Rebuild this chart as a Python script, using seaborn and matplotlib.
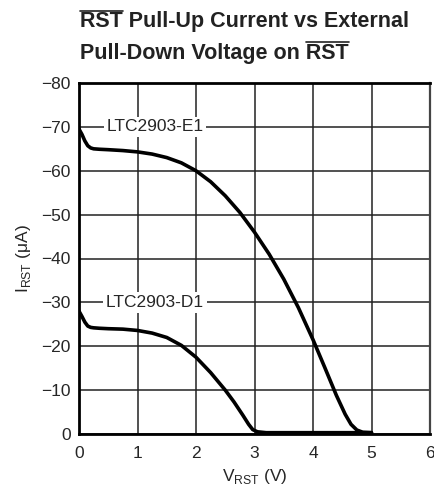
import numpy as np
import pandas as pd
import matplotlib
matplotlib.use('Agg')
import matplotlib.pyplot as plt
from matplotlib import font_manager
import seaborn as sns

# curve readings
v_e1 = [0.0, 0.05, 0.1, 0.15, 0.2, 0.25, 0.35, 0.5, 0.75, 1.0, 1.25, 1.5, 1.75, 2.0, 2.25, 2.5,
        2.75, 3.0, 3.25, 3.5, 3.75, 4.0, 4.2, 4.4, 4.55, 4.65, 4.75, 4.85, 5.0]
i_e1 = [-69.5, -68.3, -66.8, -65.7, -65.2, -65.0, -64.9, -64.8, -64.6, -64.3, -63.8, -63.0, -61.8,
        -60.0, -57.5, -54.3, -50.5, -46.0, -41.0, -35.3, -28.8, -21.5, -15.2, -8.8, -4.5, -2.2,
        -0.9, -0.4, -0.3]
v_d1 = [0.0, 0.05, 0.1, 0.15, 0.2, 0.25, 0.35, 0.5, 0.75, 1.0, 1.25, 1.5, 1.75, 2.0, 2.25, 2.5,
        2.65, 2.8, 2.9, 2.97, 3.05, 3.2, 4.0, 5.0]
i_d1 = [-28.0, -26.8, -25.5, -24.6, -24.3, -24.2, -24.1, -24.0, -23.9, -23.6, -23.0, -22.0, -20.2,
        -17.5, -14.0, -10.0, -7.3, -4.3, -2.2, -1.0, -0.5, -0.3, -0.3, -0.3]

xticks = [0, 1, 2, 3, 4, 5, 6]
yticks = [-80, -70, -60, -50, -40, -30, -20, -10, 0]
title1 = 'RST Pull-Up Current vs External'
title2 = 'Pull-Down Voltage on RST'

sns.set_style('white')

# a narrow face looks closer to the datasheet font, if one is around
names = {f.name for f in font_manager.fontManager.ttflist}
narrow = [n for n in ['Liberation Sans Narrow', 'DejaVu Sans Condensed'] if n in names]
if narrow:
    plt.rcParams['font.family'] = [narrow[0], 'DejaVu Sans']
    fs, tfs = 14, 18
else:
    plt.rcParams['font.family'] = ['Liberation Sans', 'DejaVu Sans']
    fs, tfs = 12.5, 15.5

fig = plt.figure(figsize=(4.34, 4.96), dpi=100)
ax = fig.add_axes([79 / 434, 1 - 434 / 496, 351 / 434, 351 / 496])

df = pd.concat([
    pd.DataFrame({'v': v_e1, 'i': i_e1, 'part': 'LTC2903-E1'}),
    pd.DataFrame({'v': v_d1, 'i': i_d1, 'part': 'LTC2903-D1'}),
])
sns.lineplot(data=df, x='v', y='i', units='part', estimator=None, color='black',
             linewidth=2.6, sort=False, ax=ax, zorder=3)

ax.set_xlim(0, 6)
ax.set_ylim(0, -80)
ax.set_xticks(xticks)
ax.set_yticks(yticks)
ax.set_xticklabels([str(t) for t in xticks])
ax.set_yticklabels([str(t).replace('-', '\u2212') for t in yticks])
ax.tick_params(labelsize=fs, length=0, pad=6)
ax.tick_params(axis='x', pad=9)
ax.grid(True, color='#222222', linewidth=1.1)
for s in ['left', 'bottom', 'top']:
    ax.spines[s].set_color('black')
    ax.spines[s].set_linewidth(2)
ax.spines['right'].set_color('#444444')
ax.spines['right'].set_linewidth(1.6)

ax.set_xlabel('V$_{\\mathregular{RST}}$ (V)', fontsize=fs, labelpad=4)
ax.set_ylabel('I$_{\\mathregular{RST}}$ ($\\mathregular{\\mu}$A)', fontsize=fs, labelpad=6)

for name, y in [('LTC2903-E1', -70), ('LTC2903-D1', -30)]:
    ax.text(1.3, y, name, fontsize=fs, ha='center', va='center', zorder=4,
            bbox=dict(facecolor='white', edgecolor='none', pad=2))

# title with overlines on RST
t1 = fig.text(80 / 434, 1 - 22 / 496, title1, fontsize=tfs,
              fontweight='bold', va='center', ha='left', color='#222222')
t2 = fig.text(80 / 434, 1 - 53 / 496, title2, fontsize=tfs,
              fontweight='bold', va='center', ha='left', color='#222222')
fig.canvas.draw()
r = fig.canvas.get_renderer()


def overline(txt, full, sub):
    bb = txt.get_window_extent(r)
    k = full.index(sub)
    x0 = bb.x0
    if k:
        pre = fig.text(0, 0, full[:k] + '|', fontsize=tfs, fontweight='bold')
        bar = fig.text(0, 0, '|', fontsize=tfs, fontweight='bold')
        x0 += pre.get_window_extent(r).width - bar.get_window_extent(r).width
        pre.remove()
        bar.remove()
    w = fig.text(0, 0, sub, fontsize=tfs, fontweight='bold')
    x1 = x0 + w.get_window_extent(r).width
    w.remove()
    y = bb.y1 + 1
    fig.add_artist(plt.Line2D([x0 / fig.bbox.width, x1 / fig.bbox.width],
                              [y / fig.bbox.height] * 2, color='#222222', lw=1.2))


overline(t1, title1, 'RST')
overline(t2, title2, 'RST')

fig.savefig('out.png', dpi=100)
